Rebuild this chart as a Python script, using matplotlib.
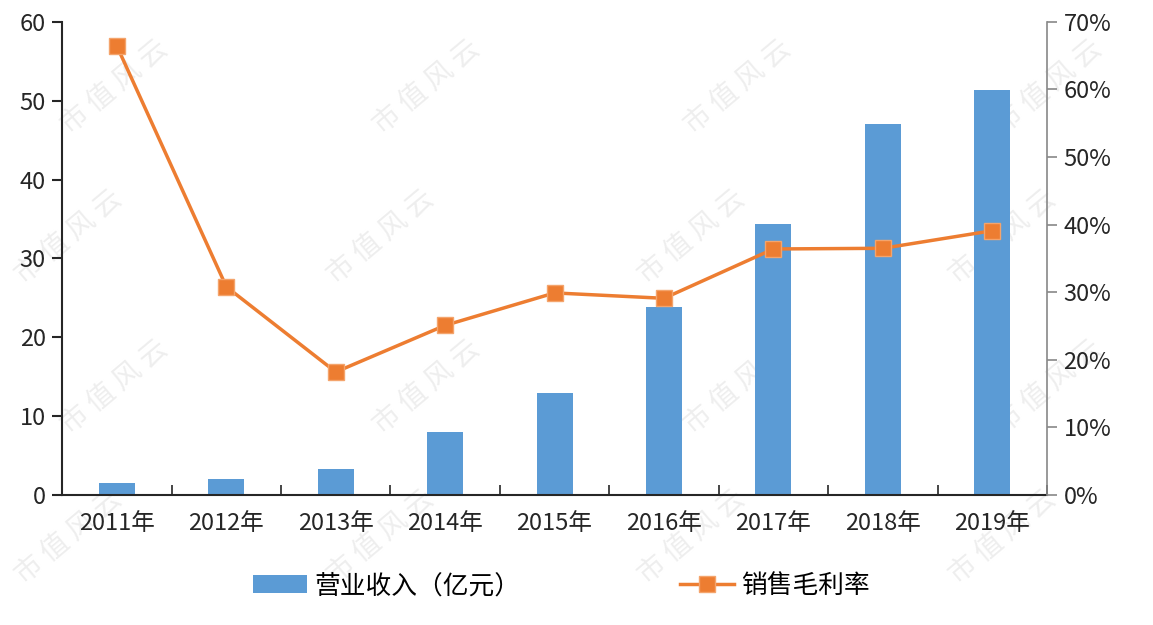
import numpy as np
import matplotlib
matplotlib.use("Agg")
import matplotlib.pyplot as plt
from matplotlib.ticker import PercentFormatter

plt.rcParams['font.family'] = ['Noto Sans CJK SC', 'DejaVu Sans']

years = ['2011年', '2012年', '2013年', '2014年', '2015年', '2016年', '2017年', '2018年', '2019年']
revenue = [1.5, 2.0, 3.3, 8.0, 12.9, 23.9, 34.4, 47.1, 51.4]
gross_margin = [66.4, 30.8, 18.2, 25.1, 29.9, 29.1, 36.4, 36.5, 39.1]

bar_color = '#5B9BD5'
line_color = '#ED7D31'

fig = plt.figure(figsize=(11.53, 6.25), dpi=100)
ax = fig.add_axes([0.054, 0.208, 0.854, 0.757])
ax2 = ax.twinx()
ax.patch.set_alpha(0)
ax2.patch.set_alpha(0)

x = np.arange(len(years))
bars = ax.bar(x, revenue, width=0.33, color=bar_color, zorder=2)
line, = ax2.plot(x, gross_margin, color=line_color, lw=2.5, marker='s', markersize=11,
                 markerfacecolor=line_color, markeredgecolor='#F4A46C', markeredgewidth=1,
                 zorder=3)

ax.set_xlim(-0.5, len(years) - 0.5)
ax.set_ylim(0, 60)
ax.set_yticks(range(0, 61, 10))
ax2.set_ylim(0, 70)
ax2.set_yticks(range(0, 71, 10))
ax2.yaxis.set_major_formatter(PercentFormatter(decimals=0))

ax.set_xticks(x)
ax.set_xticklabels(years)
ax.set_xticks(np.arange(-0.5, len(years)), minor=True)
ax.tick_params(axis='x', which='major', length=0, pad=12, labelsize=17, colors='#262626')
ax.tick_params(axis='x', which='minor', length=7, direction='in', width=1.2, color='#262626')
ax.tick_params(axis='y', length=7, width=1.5, labelsize=17, colors='#262626', pad=5)
ax2.tick_params(axis='y', length=7, width=1.2, labelsize=17, color='#888888',
                labelcolor='#262626', pad=5)

for a in (ax, ax2):
    a.spines['top'].set_visible(False)
ax.spines['right'].set_visible(False)
ax2.spines['left'].set_visible(False)
ax2.spines['bottom'].set_visible(False)
ax.spines['left'].set_color('#262626')
ax.spines['left'].set_linewidth(1.5)
ax.spines['bottom'].set_color('#262626')
ax.spines['bottom'].set_linewidth(1.5)
ax2.spines['right'].set_color('#888888')
ax2.spines['right'].set_linewidth(1.2)

fig.legend([bars, line], ['营业收入（亿元）', '销售毛利率'], loc='center',
           bbox_to_anchor=(0.487, 0.062), ncol=2, frameon=False, fontsize=18.5,
           columnspacing=6.2, handlelength=2.1, handleheight=0.7, handletextpad=0.3)

# faint watermark behind the plot, kept inside the figure
wm_x = [0.10, 0.37, 0.64, 0.91]
wm_y = [0.86, 0.62, 0.38, 0.14]
for row, yy in enumerate(wm_y):
    for xx in wm_x:
        fig.text(xx - 0.04 * (row % 2), yy, '市 值 风 云', rotation=40, fontsize=20,
                 color='#eeeeee', ha='center', va='center', zorder=-5)

fig.savefig('out.png', dpi=100)
